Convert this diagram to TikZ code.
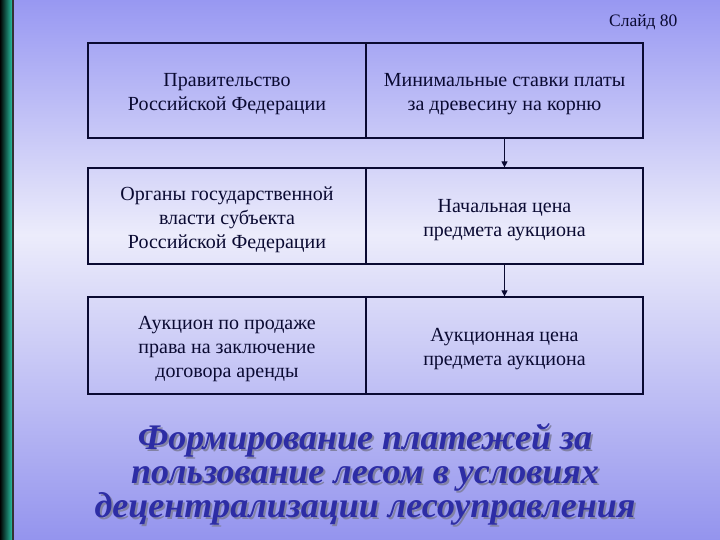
\documentclass[tikz,border=0pt]{standalone}
\usepackage{fontspec}
\setmainfont{Liberation Serif}
\usetikzlibrary{arrows.meta}
\definecolor{bgtop}{RGB}{152,152,242}
\definecolor{bgmid}{RGB}{236,236,251}
\definecolor{bgbot}{RGB}{148,148,238}
\definecolor{ink}{RGB}{10,10,50}
\definecolor{teal}{RGB}{40,190,160}
\definecolor{titleblue}{RGB}{45,45,165}
\definecolor{shadowc}{RGB}{130,130,165}
\tikzset{
  box/.style={draw=ink, line width=1.2pt, minimum height=95pt, inner sep=0pt},
  leftbox/.style={box, minimum width=278pt},
  rightbox/.style={box, minimum width=277pt},
  boxtext/.style={align=center, text=ink, font=\fontsize{20}{24}\selectfont, inner sep=0pt, yshift=-4pt},
  flow/.style={draw=ink, line width=1pt, -{Triangle[width=6pt,length=6pt]}},
  titletext/.style={align=center, font=\fontsize{36}{34}\selectfont\bfseries\itshape},
}
\begin{document}
\begin{tikzpicture}[x=1pt,y=-1pt]
\useasboundingbox (0,0) rectangle (720,540);
\shade[top color=bgtop, bottom color=bgmid] (0,0) rectangle (720,235);
\shade[top color=bgmid, bottom color=bgbot] (0,235) rectangle (720,540);
\shade[left color=black, right color=teal] (0,0) rectangle (12,540);
\fill[black!80] (12,0) rectangle (14,540);
\node[anchor=east, text=ink, font=\fontsize{17.5}{20}\selectfont] (slide) at (681,22) {Слайд 80};
\node[leftbox] (l1) at (227,90.5) {};
\node[rightbox] (r1) at (504.5,90.5) {};
\node[leftbox, minimum height=96pt] (l2) at (227,216) {};
\node[rightbox, minimum height=96pt] (r2) at (504.5,216) {};
\node[leftbox, minimum height=97pt] (l3) at (227,345.5) {};
\node[rightbox, minimum height=97pt] (r3) at (504.5,345.5) {};
\node[boxtext] (l1t) at (l1.center) {Правительство\\Российской Федерации};
\node[boxtext] (r1t) at (r1.center) {Минимальные ставки платы\\за древесину на корню};
\node[boxtext] (l2t) at (l2.center) {Органы государственной\\власти субъекта\\Российской Федерации};
\node[boxtext] (r2t) at (r2.center) {Начальная цена\\предмета аукциона};
\node[boxtext] (l3t) at (l3.center) {Аукцион по продаже\\права на заключение\\договора аренды};
\node[boxtext] (r3t) at (r3.center) {Аукционная цена\\предмета аукциона};
\draw[flow] (r1) -- (r2);
\draw[flow] (r2) -- (r3);
\node[titletext, text=shadowc] (tshadow) at (367,476) {Формирование платежей за\\пользование лесом в условиях\\децентрализации лесоуправления};
\node[titletext, text=titleblue] (title) at (365,474) {Формирование платежей за\\пользование лесом в условиях\\децентрализации лесоуправления};
\end{tikzpicture}
\end{document}
